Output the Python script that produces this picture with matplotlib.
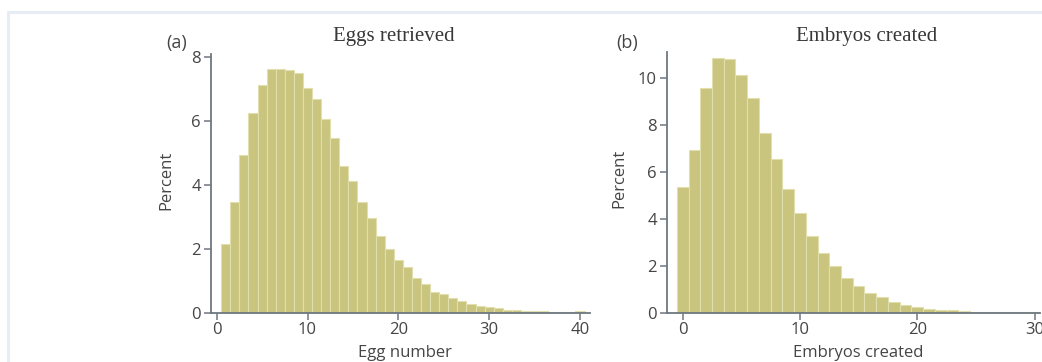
import matplotlib.pyplot as plt
from matplotlib.patches import Rectangle
import numpy as np

# (a) eggs retrieved, percent per egg count
egg_number = list(range(1, 41))
egg_pct = [2.15, 3.48, 4.95, 6.26, 7.14, 7.64, 7.62, 7.59, 7.49, 7.04,
           6.69, 6.05, 5.47, 4.58, 4.13, 3.48, 2.96, 2.41, 2.01, 1.65,
           1.42, 1.08, 0.89, 0.66, 0.59, 0.47, 0.37, 0.27, 0.21, 0.17,
           0.14, 0.10, 0.08, 0.06, 0.05, 0.04, 0.03, 0.03, 0.03, 0.05]

# (b) embryos created, percent per embryo count
embryo_number = list(range(0, 31))
embryo_pct = [5.35, 6.94, 9.56, 10.85, 10.81, 10.10, 9.15, 7.66, 6.56, 5.25,
              4.25, 3.26, 2.56, 1.98, 1.49, 1.13, 0.82, 0.65, 0.47, 0.33,
              0.23, 0.17, 0.13, 0.10, 0.07, 0.05, 0.04, 0.03, 0.02, 0.02, 0.02]

bar_color = '#c9c47e'
edge_color = '#e2dfae'
axis_color = '#6e7780'
text_color = '#454545'
sans = ['Open Sans', 'DejaVu Sans']
serif = 'Liberation Serif'

fig = plt.figure(figsize=(10.42, 3.62), dpi=100)
W, H = 1042, 362

# faint frame around the figure (only top and left edges show)
fig.patches.append(Rectangle((8 / W, -0.1), 1.2, 1.1 - 12 / H, transform=fig.transFigure,
                             fill=False, edgecolor='#e8ecf5', linewidth=2.2))


def panel(rect, x, y, xlim, ylim, yticks, xticks, xlabel, lab_coords):
    ax = fig.add_axes(rect)
    ax.bar(x, y, width=1.0, color=bar_color, edgecolor=edge_color, linewidth=0.8)
    ax.set_xlim(*xlim)
    ax.set_ylim(*ylim)
    ax.set_xticks(xticks)
    ax.set_yticks(yticks)
    for s in ['top', 'right']:
        ax.spines[s].set_visible(False)
    for s in ['left', 'bottom']:
        ax.spines[s].set_color(axis_color)
        ax.spines[s].set_linewidth(1.3)
    ax.tick_params(colors=axis_color, labelcolor=text_color, length=5, width=1.1,
                   labelsize=12, pad=2)
    for t in ax.get_xticklabels() + ax.get_yticklabels():
        t.set_family(sans)
    ax.set_ylabel('Percent', fontsize=12, color=text_color, family=sans)
    ax.set_xlabel(xlabel, fontsize=12, color=text_color, family=sans)
    ax.yaxis.set_label_coords(*lab_coords[0])
    ax.xaxis.set_label_coords(*lab_coords[1])
    ax.patch.set_alpha(0)
    return ax


panel([210.7 / W, 1 - 312.7 / H, 379.3 / W, 258.7 / H], egg_number, egg_pct,
      (-0.66, 41.1), (0, 8.1), [0, 2, 4, 6, 8], [0, 10, 20, 30, 40],
      'Egg number', ((-0.095, 0.513), (0.512, -0.125)))
panel([666.7 / W, 1 - 312.7 / H, 373.3 / W, 260.7 / H], embryo_number, embryo_pct,
      (-1.36, 30.46), (0, 11.1), [0, 2, 4, 6, 8, 10], [0, 10, 20, 30],
      'Embryos created', ((-0.105, 0.517), (0.512, -0.125)))

fig.text(394 / W, 1 - 37 / H, 'Eggs retrieved', ha='center', va='center',
         fontsize=15, family=serif, color='#383838')
fig.text(867 / W, 1 - 37 / H, 'Embryos created', ha='center', va='center',
         fontsize=15, family=serif, color='#383838')
fig.text(177 / W, 1 - 43 / H, '(a)', ha='center', va='center', fontsize=13,
         family=sans, color=text_color)
fig.text(627 / W, 1 - 43 / H, '(b)', ha='center', va='center', fontsize=13,
         family=sans, color=text_color)

fig.savefig('out.png', dpi=100)
